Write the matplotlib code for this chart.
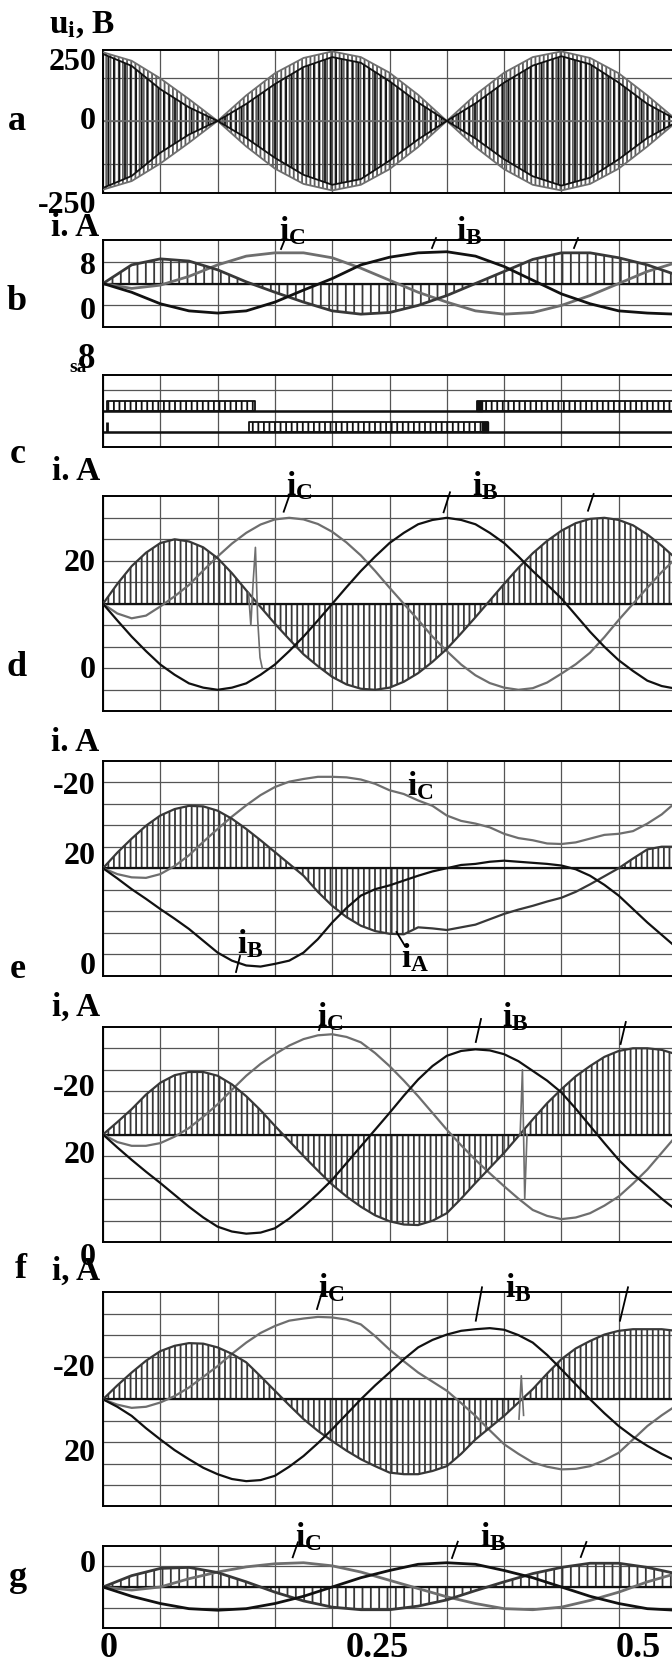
import matplotlib
matplotlib.use('Agg')
import matplotlib.pyplot as plt
from matplotlib.lines import Line2D
from matplotlib.transforms import ScaledTranslation, blended_transform_factory

plt.rcParams['font.family'] = ['Liberation Serif', 'DejaVu Serif']
plt.rcParams['font.weight'] = 'bold'
plt.rcParams['mathtext.fontset'] = 'custom'
plt.rcParams['mathtext.rm'] = 'Liberation Serif:bold'
plt.rcParams['mathtext.it'] = 'Liberation Serif:bold'
plt.rcParams['mathtext.bf'] = 'Liberation Serif:bold'
plt.rcParams['hatch.linewidth'] = 1.3

# ---------------- data ----------------
t = [0.000, 0.025, 0.050, 0.075, 0.100, 0.125, 0.150, 0.175, 0.200, 0.225, 0.250,
     0.275, 0.300, 0.325, 0.350, 0.375, 0.400, 0.425, 0.450, 0.475, 0.500]
t2 = [0.0000, 0.0125, 0.0250, 0.0375, 0.0500, 0.0625, 0.0750, 0.0875, 0.1000, 0.1125,
      0.1250, 0.1375, 0.1500, 0.1625, 0.1750, 0.1875, 0.2000, 0.2125, 0.2250, 0.2375,
      0.2500, 0.2625, 0.2750, 0.2875, 0.3000, 0.3125, 0.3250, 0.3375, 0.3500, 0.3625,
      0.3750, 0.3875, 0.4000, 0.4125, 0.4250, 0.4375, 0.4500, 0.4625, 0.4750, 0.4875, 0.5000]
x_tick_labels = ['0', '', '', '', '', '0.25', '', '', '', '', '0.5']

# (a) voltage envelopes, V   (on t)
a_env_gray = [242, 212, 150, 77, 0, 90, 168, 222, 245, 225, 170, 92, 0, 92, 170, 225, 245, 222, 168, 90, 5]
a_env_black = [236, 194, 112, 48, 0, 60, 130, 190, 225, 205, 140, 65, 0, 62, 135, 195, 228, 200, 135, 60, 5]

# (b) currents   (on t)
b_C = [4.0, 3.1, 3.7, 5.3, 7.4, 9.0, 9.6, 9.6, 8.7, 6.8, 4.6, 2.4, 0.6, -1.0, -1.6, -1.3, 0.0, 1.8, 4.0, 6.2, 7.8]
b_B = [4.0, 2.4, 0.3, -1.0, -1.4, -1.0, 0.6, 2.8, 4.9, 7.4, 8.8, 9.6, 9.8, 9.0, 7.1, 4.6, 2.1, 0.3, -1.0, -1.4, -1.6]
b_A = [4.0, 7.4, 8.5, 8.1, 6.5, 4.3, 2.4, 0.6, -1.0, -1.6, -1.3, 0.0, 1.8, 4.0, 6.2, 8.4, 9.6, 9.6, 8.7, 7.4, 5.6]

# (c) switching signals: (start, end) of pulse trains
c_upper_spans = [(0.0036, 0.1329), (0.3265, 0.5)]
c_lower_spans = [(0.1272, 0.3357)]
c_upper_dense = [(0.3265, 0.331)]
c_lower_dense = [(0.331, 0.3357)]
c_spike = [0.0036]
c_upper_level = (2, 3)
c_lower_level = (0, 1)

# (d)   (on t2)
d_C = [12.0, 10.2, 9.3, 9.8, 11.5, 13.4, 15.5, 18.2, 20.8, 23.2, 25.2, 26.75, 27.7, 28.0, 27.7, 26.85,
       25.4, 23.4, 21.0, 18.1, 15.0, 12.0, 9.0, 5.9, 3.2, 0.7, -1.3, -2.75, -3.6, -4.0, -3.7, -2.65,
       -1.0, 0.75, 2.9, 5.8, 9.0, 12.0, 15.0, 17.9, 20.5]
d_B = [12.0, 8.9, 5.9, 3.2, 0.7, -1.2, -2.8, -3.6, -4.0, -3.6, -2.8, -1.2, 0.7, 3.2, 5.9, 8.9,
       12.0, 15.1, 18.1, 20.8, 23.3, 25.2, 26.8, 27.6, 28.0, 27.6, 26.8, 25.2, 23.3, 20.8, 18.1, 15.6,
       13.0, 9.9, 6.8, 4.0, 1.5, -0.5, -2.3, -3.3, -3.8]
d_A = [12.0, 15.7, 19.0, 21.5, 23.3, 24.0, 23.6, 22.5, 20.5, 17.7, 14.5, 11.4, 8.3, 5.4, 2.6, 0.4,
       -1.6, -3.0, -3.8, -4.0, -3.6, -2.5, -0.9, 1.2, 3.6, 6.5, 9.5, 12.6, 15.7, 18.7, 21.4, 23.7,
       25.6, 27.0, 27.8, 28.0, 27.6, 26.6, 24.9, 22.8, 20.4]
d_glitch_t = [0.127, 0.129, 0.131, 0.133, 0.135, 0.137, 0.139]
d_glitch_v = [14.0, 8.0, 16.0, 22.5, 9.0, 2.0, 0.0]

# (e)   (on t2)
e_C = [12.0, 10.9, 10.3, 10.2, 10.9, 12.4, 14.4, 16.9, 19.3, 21.6, 23.7, 25.6, 27.1, 28.1, 28.6, 29.0,
       29.0, 28.9, 28.5, 27.7, 26.5, 25.8, 24.6, 23.6, 21.8, 20.8, 20.3, 19.6, 18.4, 17.6, 17.2, 16.6,
       16.5, 16.8, 17.5, 18.2, 18.4, 18.9, 20.3, 22.0, 24.3]
e_B = [12.0, 10.1, 8.1, 6.3, 4.4, 2.6, 0.7, -1.5, -3.7, -5.2, -6.1, -6.3, -5.8, -5.2, -3.7, -1.2,
       1.9, 4.6, 6.9, 8.1, 8.8, 9.7, 10.6, 11.4, 12.0, 12.6, 12.8, 13.2, 13.4, 13.2, 13.0, 12.8,
       12.5, 11.8, 10.6, 8.9, 6.9, 4.4, 1.9, -0.4, -2.7]
e_A = [12.0, 14.9, 17.5, 19.9, 21.8, 23.0, 23.6, 23.5, 22.7, 21.2, 19.3, 17.2, 15.0, 12.8, 10.6, 7.6,
       5.0, 2.9, 1.3, 0.3, -0.2, -0.3, 1.0, 0.8, 0.5, 1.0, 1.5, 2.5, 3.5, 4.3, 5.0, 5.8,
       6.5, 7.6, 9.0, 10.5, 12.0, 13.8, 15.5, 16.0, 16.0]
e_hatch_spans = [(0.0, 0.275), (0.45, 0.5)]

# (f)   (on t2)
f_C = [12.0, 10.6, 9.9, 9.9, 10.4, 11.6, 13.2, 15.3, 17.6, 20.3, 22.9, 25.1, 26.9, 28.5, 29.7, 30.4,
       30.6, 30.1, 29.1, 27.1, 24.7, 22.0, 19.1, 16.0, 12.9, 10.0, 7.3, 4.8, 2.4, 0.1, -2.0, -3.1,
       -3.7, -3.4, -2.6, -1.2, 0.5, 2.9, 5.5, 8.6, 11.7]
f_B = [12.0, 9.6, 7.3, 5.1, 3.0, 0.8, -1.4, -3.4, -5.1, -6.0, -6.4, -6.2, -5.4, -3.6, -1.4, 1.0,
       3.6, 6.7, 9.8, 12.9, 16.0, 19.2, 22.2, 24.7, 26.6, 27.5, 27.8, 27.6, 26.9, 25.6, 23.8, 22.0,
       19.8, 16.8, 13.6, 10.4, 7.3, 4.7, 2.4, 0.1, -2.0]
f_A = [12.0, 14.3, 16.7, 19.4, 21.6, 23.0, 23.6, 23.6, 22.9, 21.3, 19.1, 16.5, 13.6, 10.8, 8.0, 5.3,
       2.7, 0.5, -1.4, -3.0, -4.1, -4.7, -4.8, -4.0, -2.6, 0.1, 3.0, 5.8, 8.6, 11.7, 14.8, 17.8,
       20.4, 22.8, 24.7, 26.4, 27.5, 28.0, 28.0, 27.7, 26.9]
f_glitch_t = [0.364, 0.366, 0.368, 0.370]
f_glitch_v = [12.0, 24.0, 0.0, 12.0]

# (f, second)   (on t2)
f2_C = [12.0, 11.0, 10.4, 10.6, 11.4, 12.6, 14.2, 16.2, 18.2, 20.5, 22.6, 24.4, 25.7, 26.7, 27.1, 27.4,
        27.3, 26.9, 26.0, 23.8, 21.3, 19.1, 17.0, 15.3, 13.6, 11.3, 8.9, 6.2, 3.6, 1.8, 0.2, -0.6,
        -1.1, -1.0, -0.5, 0.6, 2.0, 4.5, 7.0, 9.0, 10.8]
f2_B = [12.0, 10.6, 8.9, 6.6, 4.5, 2.5, 0.8, -0.8, -2.0, -2.9, -3.3, -3.1, -2.3, -0.6, 1.4, 3.8,
        6.4, 9.2, 12.0, 14.6, 17.0, 19.5, 21.7, 23.1, 24.1, 24.8, 25.1, 25.3, 25.0, 24.0, 22.6, 20.3,
        17.6, 14.8, 12.0, 9.4, 7.0, 5.0, 3.3, 1.8, 0.5]
f2_A = [12.0, 14.6, 17.0, 19.2, 21.0, 22.0, 22.5, 22.4, 21.7, 20.5, 18.9, 16.3, 13.6, 10.9, 8.3, 6.1,
        4.2, 2.4, 0.8, -0.5, -1.7, -2.0, -2.0, -1.4, -0.5, 1.8, 4.5, 6.7, 8.9, 11.4, 13.9, 16.8,
        19.5, 21.5, 22.9, 24.1, 24.8, 25.1, 25.1, 25.1, 24.8]
f2_glitch_t = [0.363, 0.365, 0.367]
f2_glitch_v = [8.3, 16.4, 9.0]

# (g)   (on t)
g_C = [4.0, 3.4, 4.0, 5.6, 6.9, 7.9, 8.5, 8.7, 8.1, 6.9, 5.3, 3.7, 2.1, 0.8, -0.2, -0.4, 0.1, 1.4, 3.0, 5.0, 6.6]
g_B = [4.0, 2.2, 0.8, -0.2, -0.5, -0.2, 0.8, 2.2, 4.0, 5.8, 7.2, 8.4, 8.7, 8.4, 7.2, 5.8, 4.0, 2.2, 0.8, -0.2, -0.5]
g_A = [4.0, 6.2, 7.6, 7.8, 6.8, 5.0, 3.0, 1.3, 0.1, -0.4, -0.4, 0.3, 1.5, 3.3, 5.0, 6.6, 7.8, 8.6, 8.6, 7.8, 6.6]

# ---------------- figure ----------------
W, H = 672, 1665
fig = plt.figure(figsize=(W / 100, H / 100), dpi=100)
fig.patch.set_facecolor('white')

BLACK = '#111111'
GRAY = '#6e6e6e'
DARK = '#383838'
GRID = '#555555'
xgrid = [i * 0.05 for i in range(11)]


def make_ax(top, bottom, ylim, yticks):
    ax = fig.add_axes([103 / W, 1 - bottom / H, 573 / W, (bottom - top) / H])
    ax.set_xlim(0, 0.5)
    ax.set_ylim(*ylim)
    ax.set_xticks(xgrid)
    ax.set_yticks(yticks)
    ax.tick_params(length=0, labelbottom=False, labelleft=False)
    ax.grid(True, color=GRID, lw=0.9)
    ax.set_axisbelow(True)
    for s in ax.spines.values():
        s.set_linewidth(1.4)
        s.set_color('black')
    return ax


def ylab(ax, val, s, size=23):
    tr = blended_transform_factory(ax.transAxes, ax.transData)
    ax.text(-7 / 573, val, s, transform=tr, ha='right', va='center',
            fontsize=size, fontweight='bold', clip_on=False)


def ftext(x, y, s, size=24, ha='center', va='center'):
    fig.text(x / W, 1 - y / H, s, fontsize=size, fontweight='bold', ha=ha, va=va, zorder=10)


def leader(x0, y0, x1, y1):
    fig.add_artist(Line2D([x0 / W, x1 / W], [1 - y0 / H, 1 - y1 / H], color='black', lw=1.3, zorder=10))


def phases(ax, tt, A, B, C, center, hatch, spans=None, lw=1.6):
    where = None
    if spans is not None:
        where = [any(s - 1e-9 <= ti <= e + 1e-9 for s, e in spans) for ti in tt]
    ax.fill_between(tt, center, A, where=where, facecolor='none', edgecolor=DARK,
                    linewidth=0, hatch=hatch, zorder=2)
    ax.axhline(center, color=BLACK, lw=1.6, zorder=2.5)
    ax.plot(tt, C, color=GRAY, lw=lw, zorder=3)
    ax.plot(tt, A, color=DARK, lw=lw, zorder=3)
    ax.plot(tt, B, color=BLACK, lw=lw, zorder=3)


# (a)
ax_a = make_ax(51, 194.3, (-255, 250), [-150, 0, 150])
ax_a.fill_between(t, [-v for v in a_env_gray], a_env_gray, facecolor='none', edgecolor='#5e5e5e',
                  linewidth=0, hatch='||||', zorder=2)
ax_a.fill_between(t, [-v for v in a_env_black], a_env_black, facecolor='none', edgecolor=BLACK,
                  linewidth=0, hatch='|||', zorder=2.2)
for env, col in ((a_env_gray, GRAY), (a_env_black, BLACK)):
    ax_a.plot(t, env, color=col, lw=1.3, zorder=3)
    ax_a.plot(t, [-v for v in env], color=col, lw=1.3, zorder=3)
ax_a.axhline(0, color=GRAY, lw=1.2, zorder=2.5)
ylab(ax_a, 211, '250')
ylab(ax_a, 0, '0')
ylab(ax_a, -294, '-250')

# (b)
ax_b = make_ax(240.7, 328.3, (-4, 12), [0, 4, 8])
phases(ax_b, t, b_A, b_B, b_C, 4, '||', lw=2.0)
ylab(ax_b, 7.3, '8')
ylab(ax_b, -0.9, '0')

# (c)
ax_c = make_ax(376, 447.7, (-1.37, 5.45), [0, 2, 4])
for lvl, spans, dense in ((c_upper_level, c_upper_spans, c_upper_dense),
                          (c_lower_level, c_lower_spans, c_lower_dense)):
    ax_c.axhline(lvl[0], color=BLACK, lw=1.8, zorder=2.5)
    for s, e in spans:
        ax_c.fill_between([s, e], [lvl[0], lvl[0]], [lvl[1], lvl[1]], facecolor='none',
                          edgecolor=BLACK, linewidth=1.3, hatch='|||', zorder=3)
    for s, e in dense:
        ax_c.fill_between([s, e], [lvl[0], lvl[0]], [lvl[1], lvl[1]], facecolor=BLACK,
                          edgecolor=BLACK, linewidth=1.0, zorder=3)
ax_c.vlines(c_spike, c_lower_level[0], c_lower_level[1], color=BLACK, lw=2.0, zorder=3)

# (d)
ax_d = make_ax(497.3, 712.3, (-8, 32), list(range(-4, 32, 4)))
phases(ax_d, t2, d_A, d_B, d_C, 12, '|||')
ax_d.plot(d_glitch_t, d_glitch_v, color=GRAY, lw=1.2, zorder=3)
ylab(ax_d, 19.7, '20')
ylab(ax_d, -0.2, '0')

# (e)
ax_e = make_ax(761.7, 976.7, (-8, 32), list(range(-4, 32, 4)))
phases(ax_e, t2, e_A, e_B, e_C, 12, '|||', spans=e_hatch_spans)
ylab(ax_e, 27.4, '-20')
ylab(ax_e, 14.3, '20')
ylab(ax_e, -6.1, '0')

# (f)
ax_f = make_ax(1027.7, 1243.3, (-8, 32), list(range(-4, 32, 4)))
phases(ax_f, t2, f_A, f_B, f_C, 12, '|||')
ax_f.plot(f_glitch_t, f_glitch_v, color=GRAY, lw=1.2, zorder=3)
ylab(ax_f, 20.7, '-20')
ylab(ax_f, 8.3, '20')
ylab(ax_f, -10.6, '0')

# (f, second)
ax_f2 = make_ax(1293.3, 1507.3, (-8, 32), list(range(-4, 32, 4)))
phases(ax_f2, t2, f2_A, f2_B, f2_C, 12, '|||')
ax_f2.plot(f2_glitch_t, f2_glitch_v, color=GRAY, lw=1.2, zorder=3)
ylab(ax_f2, 18.0, '-20')
ylab(ax_f2, 2.0, '20')

# (g)
ax_g = make_ax(1546.7, 1629.3, (-4, 12), [0, 4, 8])
phases(ax_g, t, g_A, g_B, g_C, 4, '||', lw=2.0)
ylab(ax_g, 8.5, '0')
ax_g.tick_params(labelbottom=True, pad=2)
ax_g.set_xticklabels(x_tick_labels, fontsize=26, fontweight='bold')
shifts = [6, 0, 0, 0, 0, -12, 0, 0, 0, 0, -38]
for lab, dx in zip(ax_g.get_xticklabels(), shifts):
    lab.set_transform(lab.get_transform() + ScaledTranslation(dx / 100, 0, fig.dpi_scale_trans))

# ---------------- labels ----------------
ftext(82, 25, r'$\mathrm{u_i}$, B', 24)
for letter, (x, y) in {'a': (17, 121), 'b': (17, 301), 'c': (18, 455), 'd': (17, 667),
                       'e': (18, 970), 'f': (21, 1270), 'g': (18, 1578)}.items():
    ftext(x, y, letter, 26)
ftext(75, 228, 'i. A', 24)
ftext(76, 472, 'i. A', 24)
ftext(75, 743, 'i. A', 24)
ftext(76, 1007, 'i, A', 24)
ftext(76, 1271, 'i, A', 24)
ftext(78, 368, 'sa', 14)
ftext(87, 359, '8', 25)

lab_C = r'$\mathrm{i_C}$'
lab_B = r'$\mathrm{i_B}$'
lab_A = r'$\mathrm{i_A}$'
for (xc, yc), (xb, yb) in (((292, 231), (469, 231)), ((299, 486), (485, 486)),
                           ((330, 1017), (515, 1017)), ((331, 1288), (518, 1288)),
                           ((308, 1537), (493, 1537))):
    ftext(xc, yc, lab_C, 24)
    ftext(xb, yb, lab_B, 24)
ftext(420, 786, lab_C, 24)
ftext(250, 944, lab_B, 24)
ftext(415, 958, lab_A, 24)

for seg in [(281, 250, 285, 240), (432, 249, 436, 239), (574, 249, 578, 239),
            (283.7, 512.7, 289.3, 496.7), (443.6, 513.3, 450, 493.3), (588, 511.7, 593.6, 495),
            (319, 1031, 324, 1018), (475.8, 1043, 481, 1020), (620.6, 1045, 625.8, 1023),
            (317, 1310, 323.6, 1288), (475.8, 1321.7, 482, 1288.3), (620, 1321.7, 628, 1288.3),
            (292.7, 1558.3, 297.9, 1543.3), (452, 1559, 457.8, 1542.7), (580.8, 1558, 586.4, 1543),
            (236, 973, 240, 957), (396.5, 933, 405, 947)]:
    leader(*seg)

fig.savefig('out.png', dpi=100, facecolor='white')
